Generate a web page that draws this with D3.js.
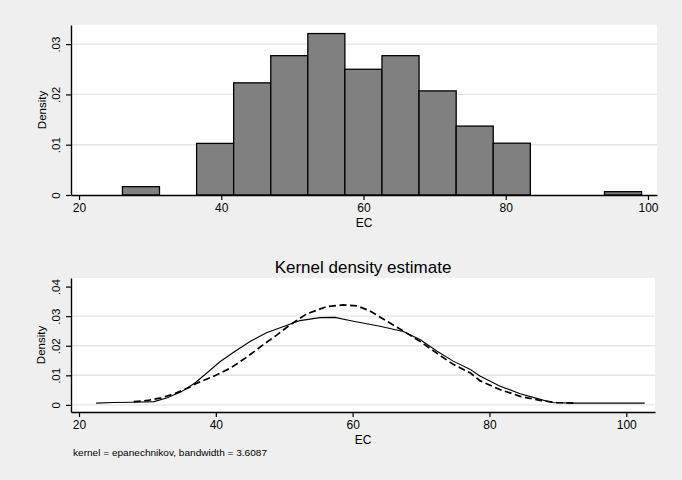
<!DOCTYPE html>
<html>
<head>
<meta charset="utf-8">
<script src="https://cdn.jsdelivr.net/npm/d3@7"></script>
<style>
  html, body { margin: 0; padding: 0; background: #efefef; }
  svg { display: block; }
  text { font-family: "Liberation Sans", Arial, sans-serif; fill: #000; }
</style>
</head>
<body>
<svg id="chart" width="682" height="480"></svg>
<script>
// ---------- data ----------
const binEdges = [26.1, 31.31, 36.53, 41.74, 46.96, 52.17, 57.38, 62.6, 67.81, 73.03, 78.24, 83.46, 88.67, 93.89, 99.1];
const histDensity = [0.00166, 0, 0.01026, 0.0223, 0.0277, 0.0321, 0.0250, 0.0277, 0.0207, 0.0137, 0.0103, 0, 0, 0.00066];

const xTicks = [20, 40, 60, 80, 100];
const yTicksTop = [0, 0.01, 0.02, 0.03];
const yTicksBottom = [0, 0.01, 0.02, 0.03, 0.04];
const yGridBottom = [0, 0.01, 0.02, 0.03];
const yTickLabels = {0: "0", 0.01: ".01", 0.02: ".02", 0.03: ".03", 0.04: ".04"};

const kdeX = [22.5, 25, 28, 31, 33, 35, 37, 39.2, 40.6, 42.6, 45, 47.4, 49.5, 52.3, 55.2, 57.4, 60.1, 64, 67.4, 69.9, 72.3, 74.7, 77.2, 78.6, 81.5, 84.5, 86.9, 89.1, 92, 102.7];
const kdeY = [0.0006, 0.0008, 0.0009, 0.0011, 0.0025, 0.0045, 0.0075, 0.0118, 0.0146, 0.0178, 0.0214, 0.0244, 0.0262, 0.0285, 0.0295, 0.0296, 0.0283, 0.0266, 0.0248, 0.0220, 0.0182, 0.0148, 0.0120, 0.0098, 0.0064, 0.0038, 0.0022, 0.0008, 0.0006, 0.0006];

const normX = [28, 30, 32, 34, 36, 37.2, 39.6, 42.1, 44.5, 46.9, 48.9, 50.8, 53.3, 56.2, 58.6, 60.6, 62.5, 65, 67.4, 69.9, 72.3, 74.7, 77.2, 78.6, 81.5, 84.5, 87.4, 89.8, 92.5];
const normY = [0.0011, 0.0015, 0.0024, 0.0038, 0.0058, 0.0073, 0.0096, 0.0124, 0.0161, 0.0203, 0.0236, 0.0270, 0.0308, 0.0332, 0.0338, 0.0335, 0.0318, 0.0283, 0.0250, 0.0214, 0.0175, 0.0137, 0.0108, 0.0082, 0.0052, 0.0029, 0.0015, 0.0008, 0.0006];

const xTitle = "EC";
const yTitle = "Density";
const kdeTitle = "Kernel density estimate";
const note = "kernel = epanechnikov, bandwidth = 3.6087";

// ---------- drawing ----------
const svg = d3.select("#chart");
svg.append("rect").attr("width", 682).attr("height", 480).attr("fill", "#efefef");

function panel(cfg) {
  const g = svg.append("g");
  const x = d3.scaleLinear().domain(cfg.xDomain).range([cfg.left, cfg.right]);
  const y = d3.scaleLinear().domain(cfg.yDomain).range([cfg.bottom, cfg.top]);

  g.append("rect")
    .attr("x", cfg.left).attr("y", cfg.top)
    .attr("width", cfg.right - cfg.left).attr("height", cfg.bottom - cfg.top)
    .attr("fill", "#ffffff");

  g.selectAll("line.grid").data(cfg.grid).join("line")
    .attr("class", "grid")
    .attr("x1", cfg.left).attr("x2", cfg.right)
    .attr("y1", d => y(d)).attr("y2", d => y(d))
    .attr("stroke", "#e4e4e4").attr("stroke-width", 1.4);

  return {g, x, y};
}

function axes(p, cfg) {
  const xa = p.g.append("g").attr("transform", `translate(0,${cfg.bottom})`)
    .call(d3.axisBottom(p.x).tickValues(xTicks).tickSize(5).tickPadding(3).tickSizeOuter(0));
  xa.select(".domain").attr("stroke", "#000").attr("stroke-width", 1.4);
  xa.selectAll(".tick line").attr("stroke", "#000").attr("stroke-width", 1.2);
  xa.selectAll(".tick text").style("font-size", "12px").attr("fill", "#000")
    .style("font-family", "'Liberation Sans', Arial, sans-serif");

  const ya = p.g.append("g").attr("transform", `translate(${cfg.left},0)`)
    .call(d3.axisLeft(p.y).tickValues(cfg.yTicks).tickSize(5).tickSizeOuter(0)
      .tickFormat(d => yTickLabels[d]));
  ya.select(".domain").attr("stroke", "#000").attr("stroke-width", 1.4);
  ya.selectAll(".tick line").attr("stroke", "#000").attr("stroke-width", 1.2);
  ya.selectAll(".tick text")
    .attr("transform", "rotate(-90)")
    .attr("x", 0).attr("y", -11.5).attr("dy", 0)
    .style("text-anchor", "middle").style("font-size", "11.5px").attr("fill", "#000")
    .style("font-family", "'Liberation Sans', Arial, sans-serif");

  p.g.append("text")
    .attr("transform", `translate(${cfg.yTitleX},${(cfg.top + cfg.bottom) / 2}) rotate(-90)`)
    .attr("text-anchor", "middle").style("font-size", "11.5px").text(yTitle);

  p.g.append("text")
    .attr("x", (cfg.left + cfg.right) / 2).attr("y", cfg.xTitleY)
    .attr("text-anchor", "middle").style("font-size", "12px").text(xTitle);
}

// ---- top: histogram ----
const topCfg = {left: 71, right: 657, top: 25, bottom: 195,
  xDomain: [18.87, 101.27], yDomain: [0, 0.0338],
  grid: [0.01, 0.02, 0.03], yTicks: yTicksTop, yTitleX: 45.5, xTitleY: 226.5};
const pt = panel(topCfg);
pt.g.selectAll("rect.bar").data(histDensity).join("rect")
  .attr("class", "bar")
  .attr("x", (d, i) => pt.x(binEdges[i]))
  .attr("width", (d, i) => pt.x(binEdges[i + 1]) - pt.x(binEdges[i]))
  .attr("y", d => pt.y(d))
  .attr("height", d => pt.y(0) - pt.y(d))
  .attr("fill", "#808080").attr("stroke", "#000").attr("stroke-width", 1.3);
axes(pt, topCfg);

// ---- bottom: kernel density ----
const botCfg = {left: 71, right: 655, top: 278, bottom: 412,
  xDomain: [18.83, 104.2], yDomain: [-0.0024, 0.0429],
  grid: yGridBottom, yTicks: yTicksBottom, yTitleX: 45, xTitleY: 444};
const pb = panel(botCfg);

const line = d3.line().x(d => pb.x(d[0])).y(d => pb.y(d[1]));
pb.g.append("path")
  .datum(normX.map((v, i) => [v, normY[i]]))
  .attr("d", line).attr("fill", "none")
  .attr("stroke", "#000").attr("stroke-width", 1.7).attr("stroke-dasharray", "7,3.5");
pb.g.append("path")
  .datum(kdeX.map((v, i) => [v, kdeY[i]]))
  .attr("d", line).attr("fill", "none")
  .attr("stroke", "#000").attr("stroke-width", 1.1);
axes(pb, botCfg);

svg.append("text")
  .attr("x", (botCfg.left + botCfg.right) / 2).attr("y", 273)
  .attr("text-anchor", "middle").style("font-size", "17px").text(kdeTitle);

svg.append("text")
  .attr("x", 73).attr("y", 456)
  .style("font-size", "8.5px").attr("textLength", 194).attr("lengthAdjust", "spacingAndGlyphs")
  .text(note);
</script>
</body>
</html>
